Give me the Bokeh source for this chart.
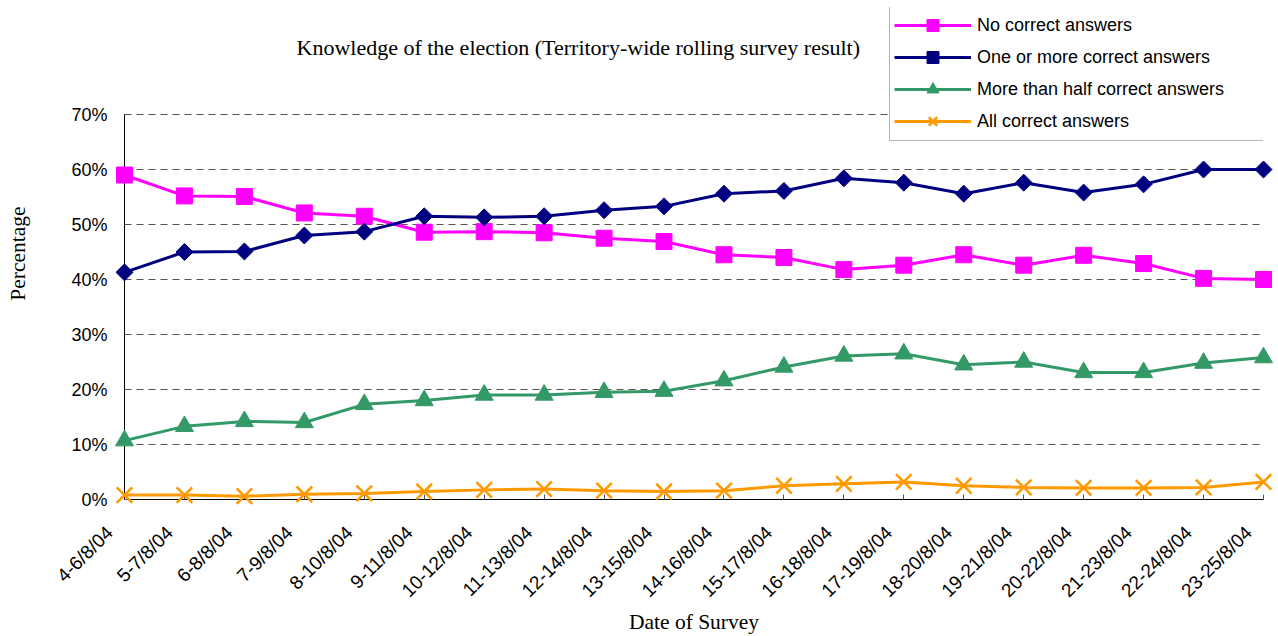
import numpy as np
from math import pi
from bokeh.plotting import figure
from bokeh.models import Range1d, FixedTicker, PrintfTickFormatter, Label
from bokeh.embed import file_html
from bokeh.resources import INLINE

# ---- data ----
dates = ["4-6/8/04", "5-7/8/04", "6-8/8/04", "7-9/8/04", "8-10/8/04",
         "9-11/8/04", "10-12/8/04", "11-13/8/04", "12-14/8/04", "13-15/8/04",
         "14-16/8/04", "15-17/8/04", "16-18/8/04", "17-19/8/04", "18-20/8/04",
         "19-21/8/04", "20-22/8/04", "21-23/8/04", "22-24/8/04", "23-25/8/04"]
no_correct = [59.0, 55.2, 55.1, 52.1, 51.5, 48.6, 48.7, 48.5, 47.5, 46.9,
              44.5, 44.0, 41.8, 42.6, 44.5, 42.6, 44.4, 42.9, 40.2, 40.0]
one_or_more = [41.3, 45.0, 45.1, 48.0, 48.7, 51.5, 51.3, 51.5, 52.6, 53.3,
               55.6, 56.1, 58.4, 57.6, 55.6, 57.6, 55.8, 57.3, 60.0, 60.0]
more_than_half = [10.7, 13.3, 14.2, 14.0, 17.3, 18.0, 19.0, 19.0, 19.5, 19.7,
                  21.6, 24.1, 26.1, 26.5, 24.5, 25.0, 23.1, 23.1, 24.8, 25.8]
all_correct = [0.8, 0.8, 0.6, 0.95, 1.1, 1.45, 1.75, 1.9, 1.6, 1.45,
               1.6, 2.5, 2.85, 3.2, 2.5, 2.2, 2.1, 2.1, 2.2, 3.2]
y_ticks = [0, 10, 20, 30, 40, 50, 60, 70]

title_text = "Knowledge of the election (Territory-wide rolling survey result)"
x_title = "Date of Survey"
y_title = "Percentage"

x = list(range(len(dates)))

# layout (pixels): plot area from 0% (y=499) to 70% (y=114); extra headroom
# above 70% holds the title and legend
frame_bottom, frame_top70, frame_top = 499, 114, 7
y_max = 70 * (frame_bottom - frame_top) / (frame_bottom - frame_top70)

p = figure(width=1278, height=636, title=None,
           x_range=Range1d(0, len(dates) - 1), y_range=Range1d(0, y_max),
           output_backend="svg", toolbar_location=None,
           min_border_left=124, min_border_right=15,
           min_border_top=frame_top, min_border_bottom=636 - frame_bottom)
p.outline_line_color = None
p.background_fill_color = "white"
p.border_fill_color = "white"

p.add_layout(Label(x=172, y=frame_bottom - 47, x_units="screen", y_units="screen",
                   text=title_text, text_align="left", text_baseline="alphabetic",
                   text_font="Liberation Serif", text_font_size="22px",
                   text_color="black"))

series = [
    (no_correct, "No correct answers", "#FF00FF", "square", 16, 0.0, 1),
    (one_or_more, "One or more correct answers", "#000080", "square", 12, pi / 4, 1),
    (more_than_half, "More than half correct answers", "#339966", "triangle", 18, 0.0, 1),
    (all_correct, "All correct answers", "#FF9900", "x", 22, 0.0, 2.5),
]
for vals, name, col, mk, sz, ang, lw in series:
    p.line(x, vals, line_color=col, line_width=3, legend_label=name, level="overlay")
    p.scatter(x, vals, marker=mk, size=sz, angle=ang, fill_color=col, line_color=col,
              line_width=lw, legend_label=name, level="overlay")

# x axis (Excel sets the rotated labels a little left of each tick: pad the
# label ends with non-breaking spaces)
pad = "\u00a0" * 4
xa = p.xaxis[0]
xa.ticker = FixedTicker(ticks=x)
xa.major_label_overrides = {i: d + pad for i, d in enumerate(dates)}
xa.major_label_orientation = pi / 4
xa.major_label_text_font = "Liberation Sans"
xa.major_label_text_font_size = "19px"
xa.major_label_text_color = "black"
xa.major_label_standoff = 15
xa.major_tick_in = 5
xa.major_tick_out = 0
xa.major_tick_line_color = "#555555"
xa.minor_tick_line_color = None
xa.axis_line_color = "black"
xa.axis_label = x_title
xa.axis_label_text_font = "Liberation Serif"
xa.axis_label_text_font_size = "21.5px"
xa.axis_label_text_font_style = "normal"
xa.axis_label_text_color = "black"
xa.axis_label_standoff = -2

ya = p.yaxis[0]
ya.bounds = (0, 70)
ya.ticker = FixedTicker(ticks=y_ticks)
ya.formatter = PrintfTickFormatter(format="%d%%")
ya.major_label_text_font = "Liberation Sans"
ya.major_label_text_font_size = "18px"
ya.major_label_text_color = "black"
ya.major_label_standoff = 17
ya.major_tick_in = 6
ya.major_tick_out = 0
ya.major_tick_line_color = "#555555"
ya.minor_tick_line_color = None
ya.axis_line_color = "black"
ya.axis_label = y_title
ya.axis_label_text_font = "Liberation Serif"
ya.axis_label_text_font_size = "21.5px"
ya.axis_label_text_font_style = "normal"
ya.axis_label_text_color = "black"
ya.axis_label_standoff = 38

p.xgrid.visible = False
p.ygrid.ticker = FixedTicker(ticks=y_ticks)
p.ygrid.grid_line_color = "#555555"
p.ygrid.grid_line_dash = "7 5"
p.ygrid.grid_line_width = 1

lg = p.legend[0]
lg.location = (765, frame_bottom - 141)
lg.border_line_color = "#6b6b6b"
lg.border_line_width = 1
lg.background_fill_color = "white"
lg.background_fill_alpha = 1.0
lg.padding = 4
lg.spacing = 2
lg.margin = 0
lg.glyph_width = 77
lg.glyph_height = 30
lg.label_height = 20
lg.label_standoff = 6
lg.label_width = 282
lg.label_text_font = "Liberation Sans"
lg.label_text_font_size = "18px"
lg.label_text_color = "black"

open("out.html", "w").write(file_html(p, INLINE))
